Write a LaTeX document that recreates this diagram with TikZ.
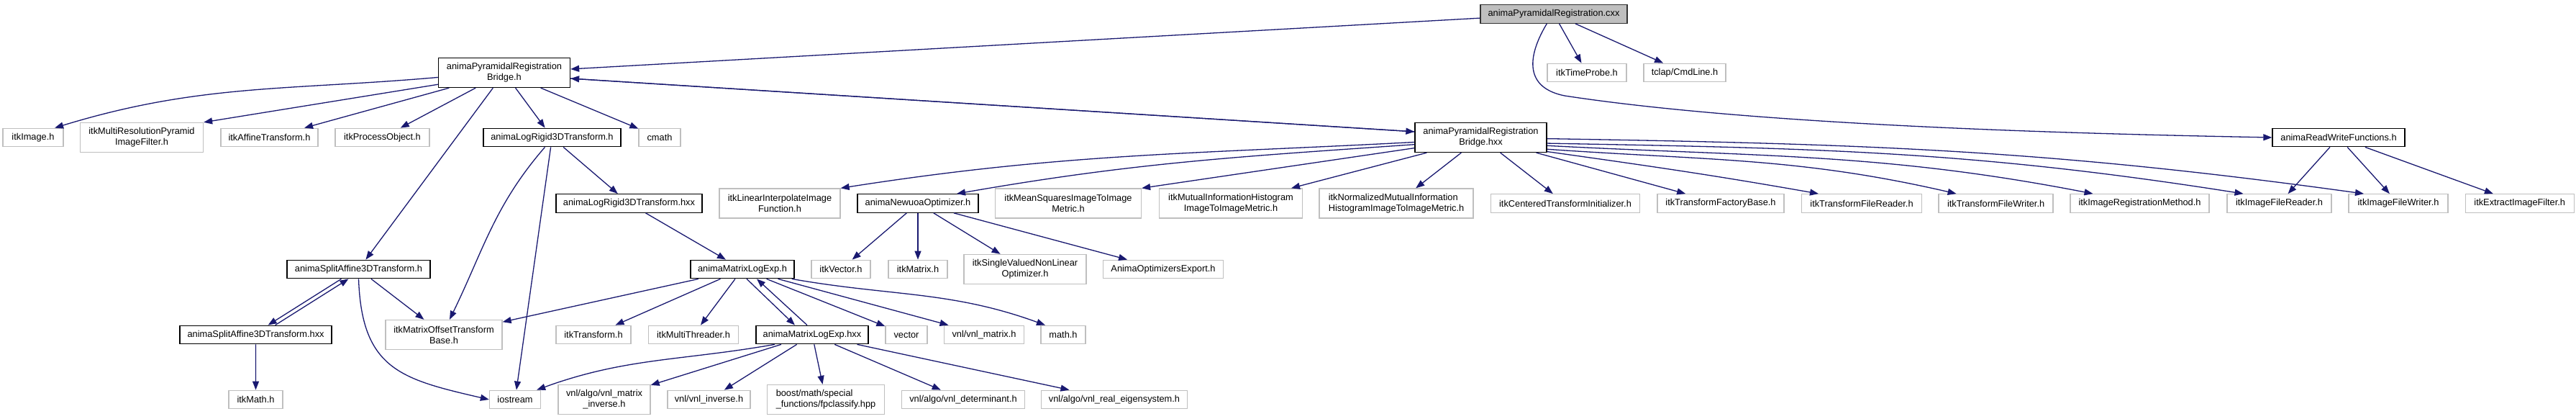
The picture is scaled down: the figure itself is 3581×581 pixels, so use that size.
\documentclass[tikz,border=0pt]{standalone}
\usepackage{fontspec}
\setmainfont{Liberation Sans}
\usepackage{tikz}
\usetikzlibrary{arrows.meta}
\definecolor{edgeblue}{RGB}{25,25,112}
\definecolor{grey75}{RGB}{191,191,191}
\tikzset{
    % 依赖箭头
    depedge/.style={
        line width=1.3pt,
        edgeblue,
        ->,
        >={Triangle[length=12pt, width=9pt]}
    },
    % 文件框
    anyfile/.style={
        rectangle,
        inner sep=0pt,
        minimum height=25.5pt,
        line width=1.3pt,
        fill=white,
        font=\fontsize{12.8}{15}\selectfont
    },
    docfile/.style={anyfile, draw=black},
    extfile/.style={anyfile, draw=grey75},
    mainfile/.style={anyfile, draw=black!80, fill=grey75},
    twoline/.style={minimum height=41pt, align=center},
    twoleft/.style={minimum height=41pt, align=left}
}

\begin{document}
\begin{tikzpicture}[x=1pt,y=1pt]
	\useasboundingbox (0,0) rectangle (3581,-581);
	
	% 第0层
	\node[mainfile, minimum width=204pt] (cxx) at (2160,-19.5) {animaPyramidalRegistration.cxx};
	
	% 第1层
	\node[docfile, twoline, minimum width=183pt] (bridgeh) at (701,-101) {animaPyramidalRegistration\\Bridge.h};
	\node[extfile, minimum width=110pt] (timeprobe) at (2206,-101) {itkTimeProbe.h};
	\node[extfile, minimum width=114pt] (cmdline) at (2342,-101) {tclap/CmdLine.h};
	
	% 第2层
	\node[extfile, minimum width=84pt] (itkimage) at (46,-191) {itkImage.h};
	\node[extfile, twoline, minimum width=171pt] (pyramid) at (197,-191) {itkMultiResolutionPyramid\\ImageFilter.h};
	\node[extfile, minimum width=135pt] (affine) at (374.5,-191) {itkAffineTransform.h};
	\node[extfile, minimum width=131pt] (processobj) at (531.5,-191) {itkProcessObject.h};
	\node[docfile, minimum width=191pt] (logrigidh) at (767.5,-191) {animaLogRigid3DTransform.h};
	\node[extfile, minimum width=58pt] (cmath) at (917,-191) {cmath};
	\node[docfile, twoline, minimum width=183pt] (bridgehxx) at (2058.5,-191) {animaPyramidalRegistration\\Bridge.hxx};
	\node[docfile, minimum width=184pt] (readwrite) at (3251,-191) {animaReadWriteFunctions.h};
	
	% 第3层
	\node[docfile, minimum width=203pt] (logrigidhxx) at (874.5,-282.5) {animaLogRigid3DTransform.hxx};
	\node[extfile, twoline, minimum width=168pt] (linearinterp) at (1084,-282.5) {itkLinearInterpolateImage\\Function.h};
	\node[docfile, minimum width=168pt] (newuoa) at (1276,-282.5) {animaNewuoaOptimizer.h};
	\node[extfile, twoline, minimum width=203pt] (meansquares) at (1485,-282.5) {itkMeanSquaresImageToImage\\Metric.h};
	\node[extfile, twoline, minimum width=199pt] (mutualinfo) at (1711,-282.5) {itkMutualInformationHistogram\\ImageToImageMetric.h};
	\node[extfile, twoleft, minimum width=214pt] (normmutual) at (1941,-282.5) {itkNormalizedMutualInformation\\HistogramImageToImageMetric.h};
	\node[extfile, minimum width=207pt] (centered) at (2176,-282.5) {itkCenteredTransformInitializer.h};
	\node[extfile, minimum width=176pt] (tfactory) at (2392,-282.5) {itkTransformFactoryBase.h};
	\node[extfile, minimum width=167pt] (tfreader) at (2588,-282.5) {itkTransformFileReader.h};
	\node[extfile, minimum width=159pt] (tfwriter) at (2774.6,-282.5) {itkTransformFileWriter.h};
	\node[extfile, minimum width=193pt] (imgregmethod) at (2974.5,-282.5) {itkImageRegistrationMethod.h};
	\node[extfile, minimum width=145pt] (imgreader) at (3168.5,-282.5) {itkImageFileReader.h};
	\node[extfile, minimum width=138pt] (imgwriter) at (3334,-282.5) {itkImageFileWriter.h};
	\node[extfile, minimum width=151pt] (extract) at (3502.7,-282.5) {itkExtractImageFilter.h};
	
	% 第4层
	\node[docfile, minimum width=199pt] (splitaffh) at (498.5,-374) {animaSplitAffine3DTransform.h};
	\node[docfile, minimum width=144pt] (matrixlogexph) at (1032,-374) {animaMatrixLogExp.h};
	\node[extfile, minimum width=82pt] (itkvector) at (1169,-374) {itkVector.h};
	\node[extfile, minimum width=82pt] (itkmatrix) at (1276,-374) {itkMatrix.h};
	\node[extfile, twoline, minimum width=170pt] (singlevalued) at (1425,-374) {itkSingleValuedNonLinear\\Optimizer.h};
	\node[extfile, minimum width=167pt] (optexport) at (1617,-374) {AnimaOptimizersExport.h};
	
	% 第5层
	\node[docfile, minimum width=211pt] (splitaffhxx) at (355.6,-465) {animaSplitAffine3DTransform.hxx};
	\node[extfile, twoline, minimum width=162pt] (matrixoffset) at (617,-465) {itkMatrixOffsetTransform\\Base.h};
	\node[extfile, minimum width=104pt] (itktransform) at (825,-465) {itkTransform.h};
	\node[extfile, minimum width=125pt] (multithreader) at (964,-465) {itkMultiThreader.h};
	\node[docfile, minimum width=156pt] (matrixlogexphxx) at (1129,-465) {animaMatrixLogExp.hxx};
	\node[extfile, minimum width=58pt] (vector) at (1260,-465) {vector};
	\node[extfile, minimum width=111pt] (vnlmatrix) at (1368,-465) {vnl/vnl\_matrix.h};
	\node[extfile, minimum width=62pt] (mathh) at (1478,-465) {math.h};
	
	% 第6层
	\node[extfile, minimum width=75pt] (itkmath) at (355.5,-555) {itkMath.h};
	\node[extfile, minimum width=71pt] (iostream) at (716,-555) {iostream};
	\node[extfile, twoline, minimum width=128pt] (matinverse) at (840,-555) {vnl/algo/vnl\_matrix\\\_inverse.h};
	\node[extfile, minimum width=115pt] (vnlinverse) at (985.5,-555) {vnl/vnl\_inverse.h};
	\node[extfile, twoleft, minimum width=163pt] (fpclassify) at (1148,-555) {boost/math/special\\\_functions/fpclassify.hpp};
	\node[extfile, minimum width=171pt] (determinant) at (1339,-555) {vnl/algo/vnl\_determinant.h};
	\node[extfile, minimum width=203pt] (eigensystem) at (1549,-555) {vnl/algo/vnl\_real\_eigensystem.h};
	
	% cxx 的依赖
	\draw[depedge] (cxx) -- (bridgeh);
	\draw[depedge] (cxx) -- (timeprobe);
	\draw[depedge] (cxx) -- (cmdline);
	\draw[depedge] (cxx.234) .. controls (2122,-80) and (2120,-122) .. (2175,-133) .. controls (2450,-175) and (2900,-186) .. (readwrite.west);
	
	% Bridge.h 的依赖
	\draw[depedge] (bridgeh.184) to[out=185,in=17] (itkimage.24);
	\draw[depedge] (bridgeh.190) -- (pyramid.north east);
	\draw[depedge] (bridgeh) -- (affine);
	\draw[depedge] (bridgeh) -- (processobj);
	\draw[depedge] (bridgeh) -- (splitaffh);
	\draw[depedge] (bridgeh) -- (logrigidh);
	\draw[depedge] (bridgeh) -- (cmath);
	\draw[depedge] (bridgeh.-5) -- (bridgehxx.175);
	\draw[depedge] (bridgehxx.175) -- (bridgeh.-5);
	
	% LogRigid3DTransform
	\draw[depedge] ([xshift=-10pt]logrigidh.south) to[out=229,in=64] ([xshift=8pt]matrixoffset.north);
	\draw[depedge] (logrigidh) -- (iostream);
	\draw[depedge] (logrigidh) -- (logrigidhxx);
	\draw[depedge] (logrigidhxx) -- (matrixlogexph);
	
	% SplitAffine3DTransform
	\draw[depedge] ([xshift=-24pt]splitaffh.south) -- ([xshift=17pt]splitaffhxx.north);
	\draw[depedge] ([xshift=27pt]splitaffhxx.north) -- ([xshift=-14pt]splitaffh.south);
	\draw[depedge] (splitaffh) -- (matrixoffset);
	\draw[depedge] (splitaffh.south) to[out=-88,in=167,looseness=1.3] (iostream.west);
	\draw[depedge] (splitaffhxx) -- (itkmath);
	
	% MatrixLogExp.h
	\draw[depedge] (matrixlogexph) -- (matrixoffset);
	\draw[depedge] (matrixlogexph) -- (itktransform);
	\draw[depedge] (matrixlogexph) -- (multithreader);
	\draw[depedge] ([xshift=6pt]matrixlogexph.south) -- ([xshift=-24pt]matrixlogexphxx.north);
	\draw[depedge] ([xshift=-7pt]matrixlogexphxx.north) -- ([xshift=20pt]matrixlogexph.south);
	\draw[depedge] (matrixlogexph) -- (vector);
	\draw[depedge] (matrixlogexph) -- (vnlmatrix);
	\draw[depedge] ([xshift=-4pt]matrixlogexph.south east) to[out=-10,in=160] ([xshift=-25pt]mathh.north);
	
	% MatrixLogExp.hxx
	\draw[depedge] ([xshift=-52pt]matrixlogexphxx.south) to[out=190,in=20] ([xshift=-6pt]iostream.north east);
	\draw[depedge] (matrixlogexphxx) -- (matinverse);
	\draw[depedge] (matrixlogexphxx) -- (vnlinverse);
	\draw[depedge] (matrixlogexphxx) -- (fpclassify);
	\draw[depedge] (matrixlogexphxx) -- (determinant);
	\draw[depedge] (matrixlogexphxx) -- (eigensystem);
	
	% NewuoaOptimizer
	\draw[depedge] (newuoa) -- (itkvector);
	\draw[depedge] (newuoa) -- (itkmatrix);
	\draw[depedge] (newuoa) -- (singlevalued);
	\draw[depedge] (newuoa) -- (optexport);
	
	% Bridge.hxx 的依赖
	\draw[depedge] (bridgehxx.184) .. controls (1654,-214) and (1478,-213) .. (linearinterp.north east);
	\draw[depedge] (bridgehxx.186) .. controls (1717,-218) and (1577,-226) .. ([xshift=54pt]newuoa.north);
	\draw[depedge] (bridgehxx.189) -- (meansquares.north east);
	\draw[depedge] ([xshift=17pt]bridgehxx.south west) -- ([xshift=84pt]mutualinfo.north);
	\draw[depedge] (bridgehxx) -- (normmutual);
	\draw[depedge] (bridgehxx) -- (centered);
	\draw[depedge] (bridgehxx) -- (tfactory);
	\draw[depedge] (bridgehxx.-12) to[out=-8,in=170] ([xshift=-60pt]tfreader.north);
	\draw[depedge] (bridgehxx.-10) to[out=-4,in=167] ([xshift=-55pt]tfwriter.north);
	\draw[depedge] (bridgehxx.-7) to[out=-3,in=169] ([xshift=-65pt]imgregmethod.north);
	\draw[depedge] (bridgehxx.-5) .. controls (2530,-206) and (2743,-210) .. ([xshift=-50pt]imgreader.north);
	\draw[depedge] (bridgehxx.-1) .. controls (2596,-200) and (2845,-208) .. ([xshift=-48pt]imgwriter.north);
	
	% ReadWriteFunctions
	\draw[depedge] (readwrite) -- (imgreader);
	\draw[depedge] (readwrite) -- (imgwriter);
	\draw[depedge] (readwrite) -- (extract);
\end{tikzpicture}
\end{document}
